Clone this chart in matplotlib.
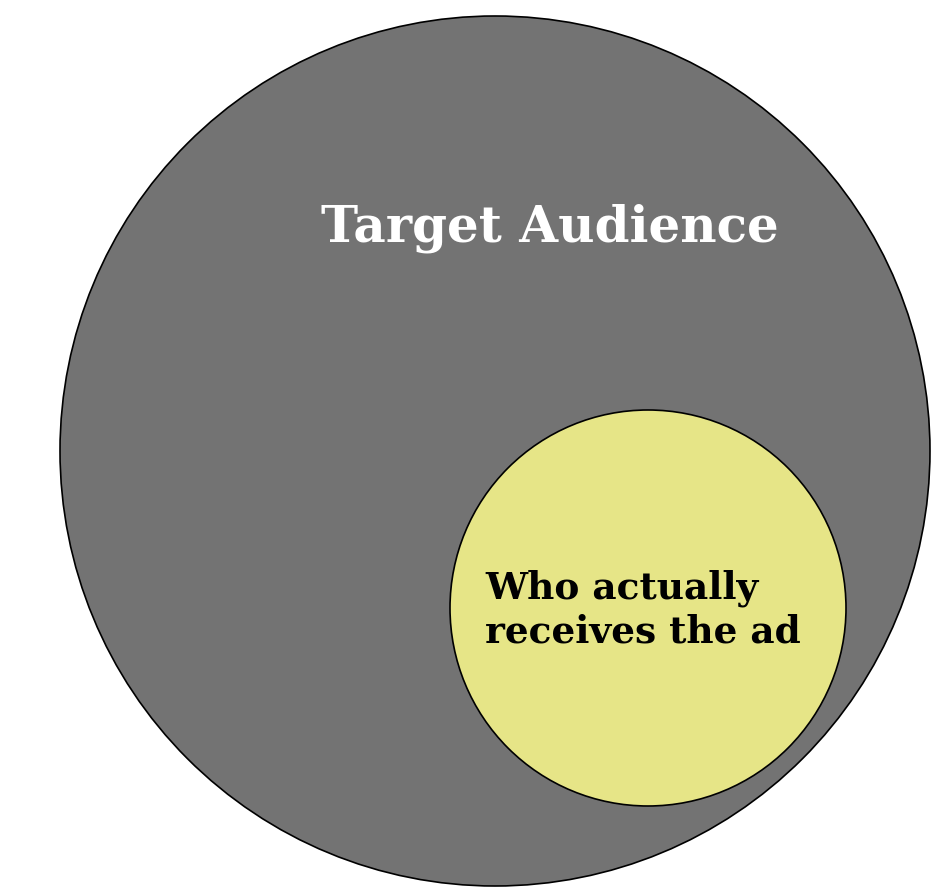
import matplotlib.pyplot as plt
from matplotlib.patches import Circle

# circle data (pixel units of the picture)
labels = ['Target Audience', 'Who actually\nreceives the ad']
centers = [(495, 451), (648, 608)]
radii = [435, 198]
colors = ['#737373', '#e6e587']
text_pos = [(550, 228), (485, 610)]
text_colors = ['white', 'black']
text_sizes = [36, 27]

fig = plt.figure(figsize=(9.48, 8.88), dpi=100)
ax = fig.add_axes([0, 0, 1, 1])
ax.set_xlim(0, 948)
ax.set_ylim(888, 0)
ax.set_aspect('equal')
ax.axis('off')

for c, r, col in zip(centers, radii, colors):
    ax.add_patch(Circle(c, r, facecolor=col, edgecolor='black', linewidth=1.2))

ax.text(*text_pos[0], labels[0], color=text_colors[0], fontsize=text_sizes[0],
        fontweight='bold', family='DejaVu Serif', ha='center', va='center')
ax.text(*text_pos[1], labels[1], color=text_colors[1], fontsize=text_sizes[1],
        fontweight='bold', family='DejaVu Serif', ha='left', va='center',
        linespacing=1.25)

fig.savefig('out.png', dpi=100)
